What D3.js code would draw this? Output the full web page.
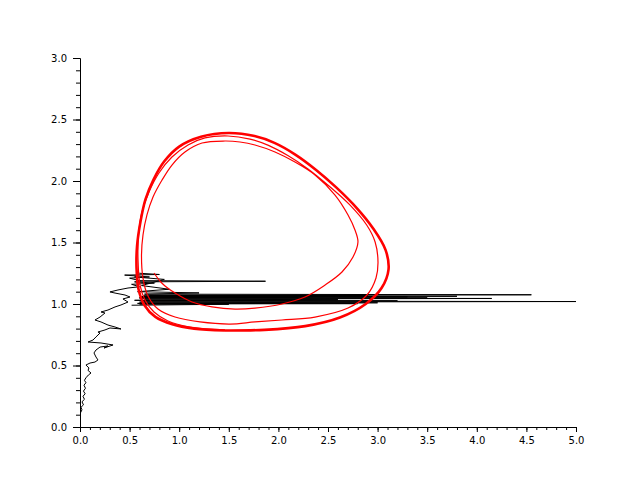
<!DOCTYPE html>
<html>
<head>
<meta charset="utf-8">
<script src="https://cdn.jsdelivr.net/npm/d3@7"></script>
<style>
  body { margin: 0; background: #fff; }
  text { font-family: "DejaVu Sans", sans-serif; }
</style>
</head>
<body>
<div id="chart"></div>
<script>
// tick values
const xMajor = [0, 0.5, 1, 1.5, 2, 2.5, 3, 3.5, 4, 4.5, 5]
const yMajor = [0, 0.5, 1, 1.5, 2, 2.5, 3]
const xMinor = d3.range(0, 51).map(i => i / 10)
const yMinor = d3.range(0, 31).map(i => i / 10)

// red trajectory: first two turns spiralling out to the cycle
const redSpiral = [
  [0.746, 1.252], [0.806, 1.187], [0.857, 1.146], [0.958, 1.089], [1.129, 1.016],
  [1.331, 0.976], [1.563, 0.959], [1.764, 0.967], [2.036, 1.000], [2.268, 1.057],
  [2.470, 1.154], [2.641, 1.260], [2.752, 1.382], [2.802, 1.504], [2.772, 1.602],
  [2.702, 1.724], [2.571, 1.886], [2.369, 2.049], [2.167, 2.154], [1.966, 2.236],
  [1.764, 2.293], [1.613, 2.317], [1.462, 2.325], [1.230, 2.309], [1.058, 2.236],
  [0.927, 2.130], [0.827, 2.008], [0.736, 1.870], [0.675, 1.724], [0.635, 1.561],
  [0.620, 1.398], [0.635, 1.211], [0.685, 1.065], [0.786, 0.959], [0.958, 0.894],
  [1.210, 0.854], [1.512, 0.837], [1.764, 0.854], [2.036, 0.870], [2.369, 0.894],
  [2.702, 0.967], [2.893, 1.073], [2.984, 1.211], [3.004, 1.341], [2.975, 1.504],
  [2.890, 1.642], [2.715, 1.810], [2.495, 1.970], [2.295, 2.100], [2.095, 2.207],
  [1.900, 2.290], [1.714, 2.341], [1.492, 2.366], [1.260, 2.350], [1.089, 2.293],
  [0.927, 2.195], [0.796, 2.065], [0.696, 1.911], [0.625, 1.748], [0.590, 1.561],
  [0.585, 1.358], [0.605, 1.154], [0.655, 1.033], [0.746, 0.935], [0.887, 0.862],
  [1.109, 0.813], [1.462, 0.789]
]

// red trajectory: the settled cycle (several passes overlap here)
const redCycle = [
  [1.46, 0.785], [1.86, 0.79], [2.27, 0.82], [2.62, 0.89], [2.88, 1.00],
  [3.04, 1.13], [3.11, 1.28], [3.08, 1.44], [2.95, 1.62], [2.79, 1.78],
  [2.58, 1.95], [2.38, 2.09], [2.17, 2.215], [1.96, 2.31], [1.76, 2.365],
  [1.50, 2.39], [1.22, 2.36], [1.00, 2.28], [0.85, 2.16], [0.74, 2.01],
  [0.66, 1.85], [0.61, 1.67], [0.575, 1.47], [0.57, 1.29], [0.59, 1.12],
  [0.65, 0.99], [0.76, 0.895], [0.93, 0.835], [1.15, 0.80], [1.46, 0.785]
]

// black noisy path
const blackPath = [
  [0.005, 0.115], [0.020, 0.140], [0.010, 0.160], [0.035, 0.180], [0.020, 0.205],
  [0.045, 0.225], [0.030, 0.250], [0.052, 0.270], [0.035, 0.292], [0.055, 0.315],
  [0.040, 0.340], [0.060, 0.360], [0.045, 0.380], [0.060, 0.400], [0.085, 0.423],
  [0.111, 0.439], [0.081, 0.460], [0.090, 0.480], [0.060, 0.504], [0.101, 0.520],
  [0.151, 0.528], [0.181, 0.545], [0.161, 0.569], [0.141, 0.602], [0.161, 0.626],
  [0.202, 0.650], [0.282, 0.659], [0.242, 0.642], [0.333, 0.667], [0.212, 0.683],
  [0.081, 0.691], [0.131, 0.707], [0.161, 0.732], [0.202, 0.764], [0.181, 0.772],
  [0.252, 0.789], [0.302, 0.805], [0.413, 0.797], [0.353, 0.813], [0.282, 0.829],
  [0.212, 0.854], [0.151, 0.870], [0.202, 0.894], [0.252, 0.927], [0.212, 0.935],
  [0.282, 0.951], [0.353, 0.976], [0.413, 0.992], [0.484, 1.016], [0.433, 1.041],
  [0.504, 1.057], [0.454, 1.073], [0.353, 1.089], [0.302, 1.098], [0.383, 1.114],
  [0.484, 1.130], [0.600, 1.140], [0.520, 1.160], [0.750, 1.170], [0.550, 1.180],
  [1.870, 1.185], [0.600, 1.190], [0.500, 1.210], [0.700, 1.220], [0.450, 1.235],
  [0.800, 1.240], [0.600, 1.250], [0.550, 1.220], [0.850, 1.200], [0.620, 1.150],
  [0.900, 1.120], [0.580, 1.100], [1.200, 1.090], [0.650, 1.080], [4.550, 1.075],
  [0.700, 1.070], [2.900, 1.068], [0.640, 1.066], [3.800, 1.063], [0.620, 1.060],
  [3.300, 1.058], [0.660, 1.056], [2.200, 1.054], [0.600, 1.052], [3.500, 1.050],
  [0.600, 1.048], [4.150, 1.045], [0.650, 1.040], [2.600, 1.035], [0.550, 1.030],
  [3.200, 1.026], [0.620, 1.024], [5.000, 1.020], [0.600, 1.015], [3.000, 1.010],
  [0.580, 1.005], [2.800, 1.003], [0.600, 1.000], [1.500, 0.998], [0.520, 0.990]
]

const w = 640
const h = 480
const padLeft = 80, padRight = 576, padTop = 58, padBottom = 427

const xScale = d3.scaleLinear().domain([0, 5]).range([padLeft, padRight])
const yScale = d3.scaleLinear().domain([0, 3]).range([padBottom, padTop])

const svg = d3.select('#chart')
  .append('svg')
  .attr('width', w)
  .attr('height', h)

// minor ticks first
svg.append('g')
  .attr('transform', 'translate(0,' + padBottom + ')')
  .call(d3.axisBottom(xScale).tickValues(xMinor).tickSize(3).tickSizeOuter(0).tickFormat(''))
svg.append('g')
  .attr('transform', 'translate(' + padLeft + ',0)')
  .call(d3.axisLeft(yScale).tickValues(yMinor).tickSize(4).tickSizeOuter(0).tickFormat(''))

// major ticks with labels
svg.append('g')
  .attr('class', 'x-axis')
  .attr('transform', 'translate(0,' + padBottom + ')')
  .call(d3.axisBottom(xScale).tickValues(xMajor).tickSize(5).tickPadding(5).tickSizeOuter(0).tickFormat(d3.format('.1f')))
svg.append('g')
  .attr('class', 'y-axis')
  .attr('transform', 'translate(' + padLeft + ',0)')
  .call(d3.axisLeft(yScale).tickValues(yMajor).tickSize(7).tickPadding(6).tickSizeOuter(0).tickFormat(d3.format('.1f')))

svg.selectAll('.tick text')
  .attr('font-family', '"DejaVu Sans", sans-serif')
  .attr('font-size', 10)
  .attr('fill', '#000')
svg.selectAll('.domain, .tick line').attr('stroke', '#000')

const line = d3.line()
  .x(d => xScale(d[0]))
  .y(d => yScale(d[1]))

const smooth = d3.line()
  .x(d => xScale(d[0]))
  .y(d => yScale(d[1]))
  .curve(d3.curveCatmullRom)

svg.append('path')
  .datum(blackPath)
  .attr('d', line)
  .attr('fill', 'none')
  .attr('stroke', '#000')
  .attr('stroke-width', 1)

svg.append('path')
  .datum(redSpiral)
  .attr('d', smooth)
  .attr('fill', 'none')
  .attr('stroke', '#ff0000')
  .attr('stroke-width', 1.2)

svg.append('path')
  .datum(redCycle)
  .attr('d', smooth)
  .attr('fill', 'none')
  .attr('stroke', '#ff0000')
  .attr('stroke-width', 2.6)
</script>
</body>
</html>
